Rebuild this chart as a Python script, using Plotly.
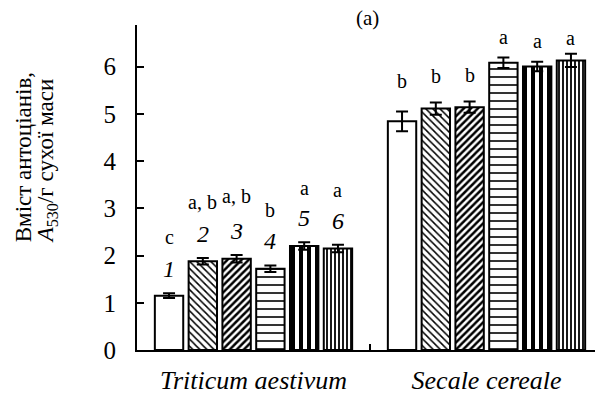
import plotly.graph_objects as go

# Anthocyanin content, A530 per g dry mass
species = ["Triticum aestivum", "Secale cereale"]
variants = ["1", "2", "3", "4", "5", "6"]

values = [
    [1.15, 1.88, 1.93, 1.72, 2.20, 2.15],   # variant 1..6, Triticum aestivum
    [4.84, 5.11, 5.14, 6.08, 6.00, 6.13],   # variant 1..6, Secale cereale
]
errors = [
    [0.05, 0.07, 0.08, 0.07, 0.08, 0.08],
    [0.21, 0.13, 0.12, 0.11, 0.10, 0.14],
]
letters = [
    ["c", "a, b", "a, b", "b", "a", "a"],
    ["b", "b", "b", "a", "a", "a"],
]
y_title_lines = ["Вміст антоціанів,", "<i>A</i><sub>530</sub>/г сухої маси"]

# fill patterns per variant: (shape, size, solidity)
patterns = [
    ("", 8, 0.3),
    ("\\", 5, 0.3),
    ("/", 5, 0.5),
    ("-", 8, 0.2),
    ("|", 8, 0.5),
    ("|", 4, 0.45),
]

SERIF = "Liberation Serif"
BARGAP = 0.13
GROUPGAP = 0.16

fig = go.Figure()
for i, v in enumerate(variants):
    shape, size, solid = patterns[i]
    fig.add_trace(go.Bar(
        x=list(range(len(species))),
        y=[values[g][i] for g in range(len(species))],
        name=v,
        marker=dict(
            color="white",
            line=dict(color="black", width=2),
            pattern=dict(shape=shape, size=size, solidity=solid,
                         fgcolor="black", bgcolor="white", fillmode="replace"),
        ),
        error_y=dict(type="data",
                     array=[errors[g][i] for g in range(len(species))],
                     color="black", thickness=2, width=6),
        showlegend=False,
    ))

# label placement above each bar (pixel offsets from the error-bar top)
num_shift = 24
letter_shift = [
    [56, 56, 59, 55, 54, 55],
    [30, 26, 27, 21, 21, 16],
]

n = len(variants)
slot = (1 - BARGAP) / n
annotations = []
for g in range(len(species)):
    for i in range(n):
        xc = g - (1 - BARGAP) / 2 + (i + 0.5) * slot
        top = values[g][i] + errors[g][i]
        annotations.append(dict(
            x=xc, y=top, xref="x", yref="y", text=letters[g][i],
            showarrow=False, yshift=letter_shift[g][i], yanchor="middle",
            font=dict(family=SERIF, size=20, color="black"),
        ))
        if g == 0:
            annotations.append(dict(
                x=xc, y=top, xref="x", yref="y", text="<i>" + variants[i] + "</i>",
                showarrow=False, yshift=num_shift, yanchor="middle",
                font=dict(family=SERIF, size=24, color="black"),
            ))

# y-axis title as two tightly spaced rotated lines
for line, xp, yp in zip(y_title_lines, [-0.249, -0.197], [0.593, 0.583]):
    annotations.append(dict(
        x=xp, y=yp, xref="paper", yref="paper", textangle=-90,
        xanchor="center", yanchor="middle", text=line,
        showarrow=False, font=dict(family=SERIF, size=23, color="black"),
    ))

# panel label
annotations.append(dict(
    x=0.5, y=1.0, xref="paper", yref="paper", xanchor="center", yanchor="middle",
    text="(a)", showarrow=False, yshift=7, xshift=1,
    font=dict(family=SERIF, size=21, color="black"),
))

fig.update_layout(
    width=595, height=395,
    margin=dict(l=137, r=0, t=25, b=42),
    paper_bgcolor="white", plot_bgcolor="white",
    barmode="group", bargap=BARGAP, bargroupgap=GROUPGAP,
    annotations=annotations,
    font=dict(family=SERIF, color="black"),
)
fig.update_xaxes(
    range=[-0.5, -0.5 + 458 / 233],
    tickvals=list(range(len(species))),
    ticktext=["<i>" + s + "</i>" for s in species],
    tickfont=dict(family=SERIF, size=26, color="black"),
    ticks="", showline=True, linecolor="black", linewidth=2,
    showgrid=False, zeroline=False,
    ticklabelstandoff=6,
    minor=dict(tickvals=[0.5], ticks="inside", ticklen=6, tickwidth=2, tickcolor="black"),
)
fig.update_yaxes(
    range=[0, 6.88],
    tickvals=[0, 1, 2, 3, 4, 5, 6],
    tickfont=dict(family=SERIF, size=25, color="black"),
    ticks="inside", ticklen=7, tickwidth=2, tickcolor="black",
    showline=True, linecolor="black", linewidth=2,
    showgrid=False, zeroline=False,
    ticklabelstandoff=14,
)

fig.write_html("out.html")
